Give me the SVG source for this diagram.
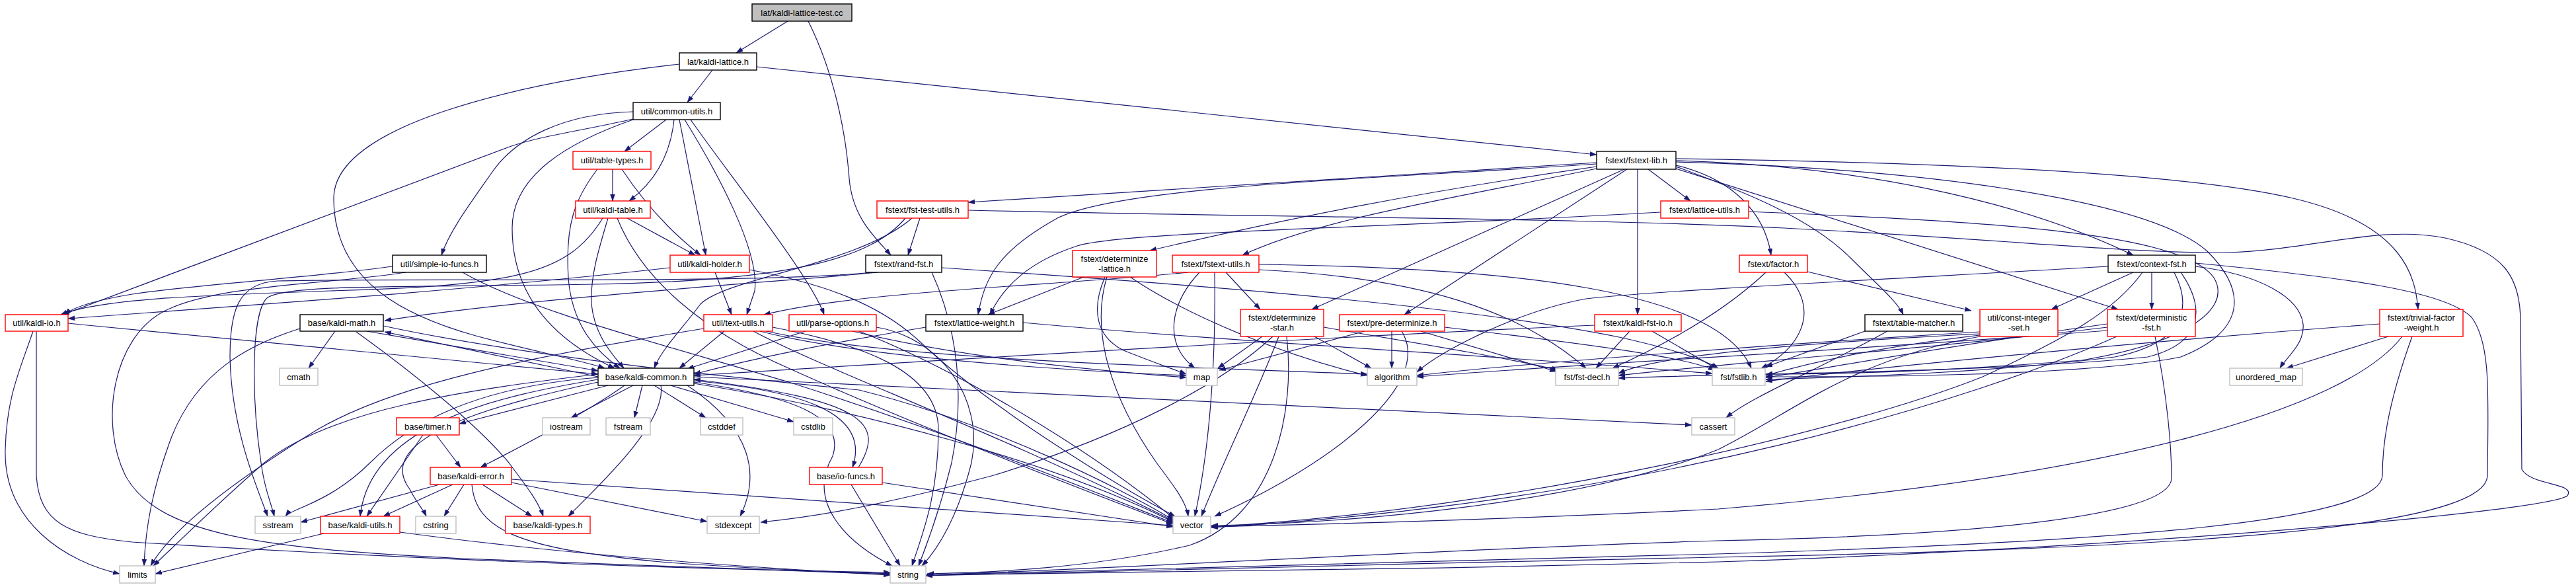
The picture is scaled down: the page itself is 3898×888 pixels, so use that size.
<svg xmlns="http://www.w3.org/2000/svg" width="3898" height="888" viewBox="0 0 3898 888">
<style>
.e{fill:none;stroke:#191970;stroke-width:1.2;marker-end:url(#a)}
.n rect{fill:#fff;stroke-width:1.4}
.b rect{stroke:#000}
.r rect{stroke:#ff0000}
.g rect{stroke:#bfbfbf}
.root rect{fill:#bfbfbf;stroke:#000}
text{font-family:"Liberation Sans",Arial,Helvetica,sans-serif;font-size:13px;fill:#000;text-anchor:middle}
</style>
<defs>
<marker id="a" markerUnits="userSpaceOnUse" markerWidth="11" markerHeight="8" refX="10" refY="3.5" orient="auto">
<path d="M0,0 L10,3.5 L0,7 z" fill="#191970" stroke="#191970" stroke-width="0.5"/>
</marker>
</defs>
<rect width="3898" height="888" fill="#fff"/>
<g id="edges">
<path class="e" d="M1192,32 L1114,80"/>
<path class="e" d="M1223,32 C1262,110 1280,200 1285,270 C1290,330 1325,360 1348,386"/>
<path class="e" d="M1078,106 L1040,155"/>
<path class="e" d="M1145,101 L2416,234"/>
<path class="e" d="M1028,97 C780,125 505,190 505,300 C505,430 620,480 720,508 C800,530 880,545 915,557"/>
<path class="e" d="M958,169 C850,172 780,210 745,260 C710,310 680,350 668,386"/>
<path class="e" d="M958,180 C880,198 820,205 771,222 L95,476"/>
<path class="e" d="M958,181 C860,215 775,265 775,345 C775,450 840,515 930,557"/>
<path class="e" d="M1008,181 L945,229"/>
<path class="e" d="M1020,181 C1015,230 995,272 952,304"/>
<path class="e" d="M1028,181 L1068,386"/>
<path class="e" d="M1036,181 C1085,260 1150,380 1142,440 L1130,476"/>
<path class="e" d="M1045,181 C1100,260 1228,420 1247,476"/>
<path class="e" d="M927,256 L927,304"/>
<path class="e" d="M941,256 C990,330 1040,370 1060,386"/>
<path class="e" d="M904,256 C870,300 855,340 860,420 C865,490 900,530 938,557"/>
<path class="e" d="M949,330 L1052,386"/>
<path class="e" d="M912,330 C860,415 780,432 500,440 C300,447 150,452 92,476"/>
<path class="e" d="M920,330 C905,380 893,420 895,460 C900,510 930,540 944,557"/>
<path class="e" d="M934,330 C970,420 1060,500 1200,560 C1400,650 1650,745 1775,793"/>
<path class="e" d="M594,403 C470,420 300,430 200,445 C140,455 110,465 98,476"/>
<path class="e" d="M614,412 C500,430 330,430 250,470 C170,510 150,640 190,720 C240,810 400,830 700,845 C1000,858 1200,865 1347,869"/>
<path class="e" d="M700,412 C800,470 1000,520 1200,580 C1450,660 1650,742 1775,791"/>
<path class="e" d="M1014,405 C700,440 400,460 103,482"/>
<path class="e" d="M1082,412 L1107,476"/>
<path class="e" d="M1134,408 C1250,430 1330,460 1390,515 C1500,620 1700,740 1778,781"/>
<path class="e" d="M103,489 C400,520 700,548 905,566"/>
<path class="e" d="M50,501 C30,560 10,600 8,680 C5,790 100,850 181,868"/>
<path class="e" d="M55,501 L55,720 C60,790 100,810 200,820 C600,845 1000,860 1347,866"/>
<path class="e" d="M507,501 L467,557"/>
<path class="e" d="M555,501 L905,561"/>
<path class="e" d="M905,570 L582,502"/>
<path class="e" d="M454,497 C380,520 300,560 260,660 C230,740 220,800 218,856"/>
<path class="e" d="M539,502 C620,560 720,640 770,700 C800,740 815,760 822,781"/>
<path class="e" d="M580,493 C800,540 1100,570 1300,590 C1500,640 1700,740 1776,787"/>
<path class="e" d="M1096,501 L1028,557"/>
<path class="e" d="M1150,501 C1300,540 1600,560 1795,568"/>
<path class="e" d="M1160,501 C1350,545 1800,555 2069,566"/>
<path class="e" d="M1140,501 C1250,560 1500,650 1776,788"/>
<path class="e" d="M1169,495 C1300,520 1420,560 1420,650 C1420,750 1395,810 1380,856"/>
<path class="e" d="M1065,497 C800,540 600,580 480,650 C350,730 260,800 228,856"/>
<path class="e" d="M1219,501 L1040,558"/>
<path class="e" d="M1290,501 C1450,540 1650,560 1795,571"/>
<path class="e" d="M1300,501 C1450,560 1650,680 1777,785"/>
<path class="e" d="M1326,495 C1420,510 1490,600 1470,700 C1450,780 1420,830 1395,856"/>
<path class="e" d="M920,583 L695,641"/>
<path class="e" d="M958,583 L864,632"/>
<path class="e" d="M972,583 L960,632"/>
<path class="e" d="M990,583 L1068,632"/>
<path class="e" d="M1015,583 L1201,638"/>
<path class="e" d="M945,583 C880,630 760,690 727,707"/>
<path class="e" d="M1000,583 C1010,640 900,740 860,781"/>
<path class="e" d="M1040,583 C1140,650 1150,720 1120,781"/>
<path class="e" d="M1050,576 C1200,590 1320,620 1290,707"/>
<path class="e" d="M1050,578 C1200,600 1280,630 1260,690 C1220,760 1280,820 1350,856"/>
<path class="e" d="M1050,580 C1300,620 1600,700 1776,790"/>
<path class="e" d="M1050,570 L2560,643"/>
<path class="e" d="M905,574 C760,598 560,640 545,781"/>
<path class="e" d="M905,571 C720,585 620,640 560,700 C500,760 440,770 432,781"/>
<path class="e" d="M905,578 C760,610 560,660 620,740 C630,760 640,770 645,781"/>
<path class="e" d="M905,566 C700,590 500,620 400,700 C320,770 260,830 232,856"/>
<path class="e" d="M640,658 L555,781"/>
<path class="e" d="M660,658 L697,707"/>
<path class="e" d="M665,733 L455,790"/>
<path class="e" d="M685,733 L580,781"/>
<path class="e" d="M702,733 L672,781"/>
<path class="e" d="M730,733 L805,781"/>
<path class="e" d="M774,730 L1070,789"/>
<path class="e" d="M774,725 L1775,795"/>
<path class="e" d="M714,733 C720,800 780,830 1000,850 C1150,862 1300,866 1347,868"/>
<path class="e" d="M490,807 L235,868"/>
<path class="e" d="M605,805 C900,845 1200,862 1347,870"/>
<path class="e" d="M1299,707 C1340,640 1310,605 1050,574"/>
<path class="e" d="M1288,733 L1362,856"/>
<path class="e" d="M1335,730 L1775,797"/>
<path class="e" d="M2416,246 L1465,306"/>
<path class="e" d="M2416,248 C2100,270 1700,280 1600,330 C1510,380 1490,420 1480,476"/>
<path class="e" d="M2416,252 C2150,290 1950,330 1740,379"/>
<path class="e" d="M2416,255 C2200,300 2000,330 1880,386"/>
<path class="e" d="M2458,256 L1985,468"/>
<path class="e" d="M2462,256 L2125,476"/>
<path class="e" d="M2478,256 L2478,476"/>
<path class="e" d="M2494,256 L2558,304"/>
<path class="e" d="M2536,250 C2620,270 2670,320 2680,386"/>
<path class="e" d="M2536,252 C2640,290 2740,330 2800,390 C2840,430 2870,455 2880,476"/>
<path class="e" d="M2536,243 C2800,250 3050,300 3228,386"/>
<path class="e" d="M2536,255 L3205,468"/>
<path class="e" d="M2536,240 C2900,245 3300,260 3470,300 C3640,340 3655,420 3659,468"/>
<path class="e" d="M2536,245 C2900,255 3250,300 3340,380 C3400,440 3400,500 3300,540 C3150,570 2800,570 2672,570"/>
<path class="e" d="M2513,321 C2100,345 1700,350 1630,372 C1560,395 1520,430 1498,476"/>
<path class="e" d="M2646,320 C3000,335 3300,350 3350,420 C3380,470 3300,520 3150,545 C2900,565 2750,566 2672,566"/>
<path class="e" d="M1392,330 L1374,386"/>
<path class="e" d="M1370,330 C1320,390 1200,425 900,430 C600,435 440,430 405,450 C380,470 380,600 395,700 C400,740 410,760 415,781"/>
<path class="e" d="M1465,318 C2000,330 2400,330 2700,345 C3000,360 3250,385 3370,382 C3500,378 3600,340 3700,360 C3790,380 3812,420 3814,480 L3816,710 C3830,735 3898,730 3885,750 C3850,775 3200,830 2600,850 C2200,860 1700,868 1401,870"/>
<path class="e" d="M1380,330 C1300,400 1100,420 1060,460 C1030,500 1000,530 990,557"/>
<path class="e" d="M1328,412 C1200,425 800,450 582,485"/>
<path class="e" d="M1320,412 C1150,430 600,420 420,425 C360,428 348,470 348,540 C350,650 390,740 405,781"/>
<path class="e" d="M1410,412 C1450,500 1460,600 1440,700 C1420,780 1400,830 1390,856"/>
<path class="e" d="M1425,405 C1800,430 2200,460 2450,510 C2540,530 2580,545 2600,557"/>
<path class="e" d="M1640,419 L1495,476"/>
<path class="e" d="M1672,419 C1650,470 1660,510 1700,530 C1750,550 1780,560 1795,566"/>
<path class="e" d="M1675,419 C1650,500 1680,600 1750,700 C1780,740 1795,760 1798,781"/>
<path class="e" d="M1710,419 C1800,480 1950,540 2069,568"/>
<path class="e" d="M1855,412 L1907,468"/>
<path class="e" d="M1815,412 C1770,460 1760,520 1808,557"/>
<path class="e" d="M1838,412 C1840,550 1830,680 1808,781"/>
<path class="e" d="M1798,412 C1600,432 1300,440 1156,476"/>
<path class="e" d="M1905,400 C2300,405 2600,440 2650,557"/>
<path class="e" d="M1905,408 C2150,420 2300,470 2400,557"/>
<path class="e" d="M1910,509 L1843,557"/>
<path class="e" d="M1926,509 C1850,580 1700,660 1500,720 C1350,760 1250,780 1151,790"/>
<path class="e" d="M1947,509 C1960,620 1930,780 1800,825 C1650,860 1500,866 1403,868"/>
<path class="e" d="M1935,509 C1900,600 1850,700 1818,781"/>
<path class="e" d="M1989,509 L2075,557"/>
<path class="e" d="M2003,495 C2150,520 2300,545 2358,560"/>
<path class="e" d="M2106,501 L2106,557"/>
<path class="e" d="M2065,501 L1845,560"/>
<path class="e" d="M2121,501 C2170,580 2020,700 1838,781"/>
<path class="e" d="M2150,501 L2355,562"/>
<path class="e" d="M2186,495 C2400,520 2550,540 2595,560"/>
<path class="e" d="M2466,501 L2415,557"/>
<path class="e" d="M2500,501 L2598,558"/>
<path class="e" d="M2413,492 C2000,510 1500,540 1050,568"/>
<path class="e" d="M1401,495 C1250,520 1150,540 1050,566"/>
<path class="e" d="M1548,488 C1900,520 2300,540 2591,565"/>
<path class="e" d="M2672,412 C2600,480 2500,530 2440,557"/>
<path class="e" d="M2700,412 C2760,470 2720,530 2665,557"/>
<path class="e" d="M2735,411 L2983,470"/>
<path class="e" d="M2822,501 L2672,555"/>
<path class="e" d="M2856,501 C2750,560 2650,600 2612,632"/>
<path class="e" d="M2996,507 C2800,530 2700,560 2672,568"/>
<path class="e" d="M2996,505 C2700,520 2500,540 2449,565"/>
<path class="e" d="M2996,502 C2700,520 2300,550 2144,568"/>
<path class="e" d="M2996,509 C2800,545 2720,620 2600,680 C2400,760 2050,792 1833,795"/>
<path class="e" d="M3189,490 C2900,530 2750,560 2672,571"/>
<path class="e" d="M3189,495 C2900,530 2600,550 2449,568"/>
<path class="e" d="M3189,500 C2800,530 2400,550 2144,570"/>
<path class="e" d="M3203,509 C3000,600 2500,760 1833,798"/>
<path class="e" d="M3261,509 C3280,600 3286,680 3286,723 C3286,780 3000,810 2598,818 C2200,830 1700,860 1401,870"/>
<path class="e" d="M3228,412 L3104,468"/>
<path class="e" d="M3256,412 L3256,468"/>
<path class="e" d="M3190,403 C2900,420 2500,440 2400,452 C2300,470 2180,530 2144,563"/>
<path class="e" d="M3242,412 C3200,470 3130,510 3000,570 C2800,650 2300,770 1833,797"/>
<path class="e" d="M3290,412 C3320,470 3300,520 3200,540 C3000,565 2800,570 2672,574"/>
<path class="e" d="M3300,412 C3340,470 3330,520 3250,540 C3000,565 2600,565 2449,572"/>
<path class="e" d="M3322,403 C3420,415 3480,450 3485,490 C3488,520 3460,540 3450,557"/>
<path class="e" d="M3322,398 C3550,420 3700,440 3740,480 C3770,520 3765,600 3764,720 C3760,800 3300,830 2598,843 C2200,850 1700,865 1401,871"/>
<path class="e" d="M3614,509 L3460,557"/>
<path class="e" d="M3635,509 C3550,620 3200,720 2600,770 C2200,790 1900,795 1833,797"/>
<path class="e" d="M3650,509 C3610,620 3605,680 3605,720 C3600,790 3200,820 2598,838 C2200,848 1700,862 1401,870"/>
<path class="e" d="M3601,490 C3200,520 2800,560 2672,577"/>
</g>
<g id="n-test" class="n root"><rect x="1138" y="6" width="151" height="26"/><text x="1213.5" y="23.5">lat/kaldi-lattice-test.cc</text></g>
<g id="n-kaldi-lattice" class="n b"><rect x="1028" y="80" width="117" height="26"/><text x="1086.5" y="97.5">lat/kaldi-lattice.h</text></g>
<g id="n-common-utils" class="n b"><rect x="958" y="155" width="132" height="26"/><text x="1024" y="172.5">util/common-utils.h</text></g>
<g id="n-table-types" class="n r"><rect x="867" y="229" width="118" height="27"/><text x="926" y="247">util/table-types.h</text></g>
<g id="n-kaldi-table" class="n r"><rect x="871" y="304" width="113" height="26"/><text x="927.5" y="321.5">util/kaldi-table.h</text></g>
<g id="n-simple-io" class="n b"><rect x="594" y="386" width="142" height="26"/><text x="665" y="403.5">util/simple-io-funcs.h</text></g>
<g id="n-kaldi-holder" class="n r"><rect x="1014" y="386" width="120" height="26"/><text x="1074" y="403.5">util/kaldi-holder.h</text></g>
<g id="n-kaldi-io" class="n r"><rect x="8" y="476" width="95" height="25"/><text x="55.5" y="493">util/kaldi-io.h</text></g>
<g id="n-kaldi-math" class="n b"><rect x="454" y="476" width="126" height="25"/><text x="517" y="493">base/kaldi-math.h</text></g>
<g id="n-cmath" class="n g"><rect x="423" y="557" width="58" height="26"/><text x="452" y="574.5">cmath</text></g>
<g id="n-text-utils" class="n r"><rect x="1065" y="476" width="104" height="25"/><text x="1117" y="493">util/text-utils.h</text></g>
<g id="n-parse-options" class="n r"><rect x="1194" y="476" width="132" height="25"/><text x="1260" y="493">util/parse-options.h</text></g>
<g id="n-kaldi-common" class="n b"><rect x="905" y="557" width="145" height="26"/><text x="977.5" y="574.5">base/kaldi-common.h</text></g>
<g id="n-timer" class="n r"><rect x="600" y="632" width="95" height="26"/><text x="647.5" y="649.5">base/timer.h</text></g>
<g id="n-iostream" class="n g"><rect x="821" y="632" width="72" height="26"/><text x="857" y="649.5">iostream</text></g>
<g id="n-fstream" class="n g"><rect x="917" y="632" width="67" height="26"/><text x="950.5" y="649.5">fstream</text></g>
<g id="n-cstddef" class="n g"><rect x="1060" y="632" width="64" height="26"/><text x="1092" y="649.5">cstddef</text></g>
<g id="n-cstdlib" class="n g"><rect x="1201" y="632" width="59" height="26"/><text x="1230.5" y="649.5">cstdlib</text></g>
<g id="n-io-funcs" class="n r"><rect x="1225" y="707" width="110" height="26"/><text x="1280" y="724.5">base/io-funcs.h</text></g>
<g id="n-kaldi-error" class="n r"><rect x="651" y="707" width="123" height="26"/><text x="712.5" y="724.5">base/kaldi-error.h</text></g>
<g id="n-sstream" class="n g"><rect x="386" y="781" width="69" height="26"/><text x="420.5" y="798.5">sstream</text></g>
<g id="n-kaldi-utils" class="n r"><rect x="485" y="781" width="120" height="26"/><text x="545" y="798.5">base/kaldi-utils.h</text></g>
<g id="n-cstring" class="n g"><rect x="629" y="781" width="61" height="26"/><text x="659.5" y="798.5">cstring</text></g>
<g id="n-kaldi-types" class="n r"><rect x="765" y="781" width="128" height="26"/><text x="829" y="798.5">base/kaldi-types.h</text></g>
<g id="n-stdexcept" class="n g"><rect x="1070" y="781" width="79" height="26"/><text x="1109.5" y="798.5">stdexcept</text></g>
<g id="n-limits" class="n g"><rect x="181" y="856" width="54" height="26"/><text x="208" y="873.5">limits</text></g>
<g id="n-fstext-lib" class="n b"><rect x="2416" y="229" width="120" height="27"/><text x="2476" y="247">fstext/fstext-lib.h</text></g>
<g id="n-fst-test-utils" class="n r"><rect x="1327" y="304" width="138" height="26"/><text x="1396" y="321.5">fstext/fst-test-utils.h</text></g>
<g id="n-lattice-utils" class="n r"><rect x="2513" y="304" width="133" height="26"/><text x="2579.5" y="321.5">fstext/lattice-utils.h</text></g>
<g id="n-rand-fst" class="n b"><rect x="1310" y="386" width="115" height="26"/><text x="1367.5" y="403.5">fstext/rand-fst.h</text></g>
<g id="n-determinize-lattice" class="n r"><rect x="1623" y="379" width="127" height="40"/><text x="1686.5" y="396">fstext/determinize</text><text x="1686.5" y="411">-lattice.h</text></g>
<g id="n-fstext-utils" class="n r"><rect x="1774" y="386" width="131" height="26"/><text x="1839.5" y="403.5">fstext/fstext-utils.h</text></g>
<g id="n-lattice-weight" class="n b"><rect x="1401" y="476" width="147" height="25"/><text x="1474.5" y="493">fstext/lattice-weight.h</text></g>
<g id="n-determinize-star" class="n r"><rect x="1877" y="468" width="126" height="41"/><text x="1940" y="485">fstext/determinize</text><text x="1940" y="500">-star.h</text></g>
<g id="n-pre-determinize" class="n r"><rect x="2027" y="476" width="159" height="25"/><text x="2106.5" y="493">fstext/pre-determinize.h</text></g>
<g id="n-kaldi-fst-io" class="n r"><rect x="2413" y="476" width="131" height="25"/><text x="2478.5" y="493">fstext/kaldi-fst-io.h</text></g>
<g id="n-map" class="n g"><rect x="1795" y="557" width="47" height="26"/><text x="1818.5" y="574.5">map</text></g>
<g id="n-algorithm" class="n g"><rect x="2069" y="557" width="75" height="26"/><text x="2106.5" y="574.5">algorithm</text></g>
<g id="n-fst-decl" class="n g"><rect x="2354" y="557" width="95" height="26"/><text x="2401.5" y="574.5">fst/fst-decl.h</text></g>
<g id="n-fstlib" class="n g"><rect x="2591" y="557" width="80" height="26"/><text x="2631" y="574.5">fst/fstlib.h</text></g>
<g id="n-vector" class="n g"><rect x="1775" y="781" width="57" height="26"/><text x="1803.5" y="798.5">vector</text></g>
<g id="n-string" class="n g"><rect x="1347" y="856" width="54" height="26"/><text x="1374" y="873.5">string</text></g>
<g id="n-cassert" class="n g"><rect x="2560" y="632" width="65" height="26"/><text x="2592.5" y="649.5">cassert</text></g>
<g id="n-factor" class="n r"><rect x="2632" y="386" width="103" height="26"/><text x="2683.5" y="403.5">fstext/factor.h</text></g>
<g id="n-context-fst" class="n b"><rect x="3190" y="386" width="132" height="26"/><text x="3256" y="403.5">fstext/context-fst.h</text></g>
<g id="n-table-matcher" class="n b"><rect x="2822" y="476" width="148" height="25"/><text x="2896" y="493">fstext/table-matcher.h</text></g>
<g id="n-const-integer-set" class="n r"><rect x="2996" y="468" width="118" height="41"/><text x="3055" y="485">util/const-integer</text><text x="3055" y="500">-set.h</text></g>
<g id="n-deterministic-fst" class="n r"><rect x="3189" y="468" width="133" height="41"/><text x="3255.5" y="485">fstext/deterministic</text><text x="3255.5" y="500">-fst.h</text></g>
<g id="n-unordered-map" class="n g"><rect x="3374" y="557" width="110" height="26"/><text x="3429" y="574.5">unordered_map</text></g>
<g id="n-trivial-factor-weight" class="n r"><rect x="3601" y="468" width="126" height="41"/><text x="3664" y="485">fstext/trivial-factor</text><text x="3664" y="500">-weight.h</text></g>
</svg>
